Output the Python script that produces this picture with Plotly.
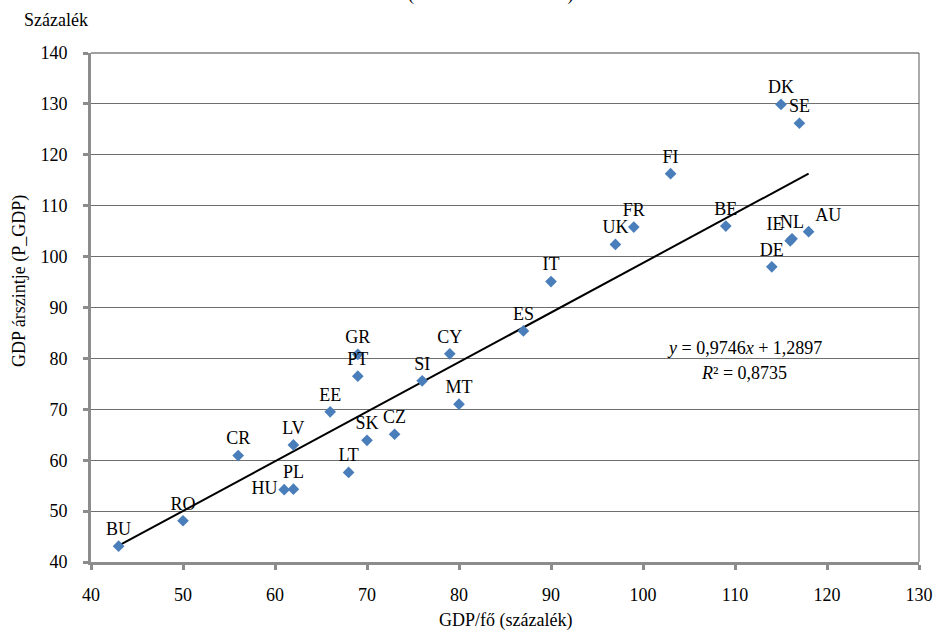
import plotly.graph_objects as go

# ---- data ----
countries = ["BU", "RO", "CR", "HU", "PL", "LV", "EE", "GR", "PT", "LT", "SK", "CZ",
             "SI", "CY", "MT", "ES", "IT", "UK", "FR", "FI", "BE", "DE", "IE", "NL",
             "AU", "DK", "SE"]
gdp_per_capita = [43, 50, 56, 61, 62, 62, 66, 69, 69, 68, 70, 73,
                  76, 79, 80, 87, 90, 97, 99, 103, 109, 114, 116, 116.2,
                  118, 115, 117]
price_level = [43.1, 48.1, 60.9, 54.2, 54.3, 63.0, 69.5, 80.8, 76.5, 57.6, 63.9, 65.1,
               75.6, 80.9, 71.0, 85.4, 95.1, 102.4, 105.8, 116.3, 106.0, 98.0, 103.1, 103.5,
               104.9, 129.9, 126.2]
trend_slope = 0.9746
trend_intercept = 1.2897
r_squared = 0.8735
x_ticks = [40, 50, 60, 70, 80, 90, 100, 110, 120, 130]
y_ticks = [40, 50, 60, 70, 80, 90, 100, 110, 120, 130, 140]

# ---- styles ----
FONT = "Liberation Serif"
SZ = 18


def fnt(size):
    return dict(family=FONT, size=size)


label_pos = {"HU": "middle left", "IE": "top left", "AU": "top right"}
positions = [label_pos.get(c, "top center") for c in countries]

fig = go.Figure()

x0, x1 = min(gdp_per_capita), max(gdp_per_capita)
fig.add_trace(go.Scatter(
    x=[x0, x1],
    y=[trend_slope * x0 + trend_intercept, trend_slope * x1 + trend_intercept],
    mode="lines", line=dict(color="black", width=2), hoverinfo="skip",
    showlegend=False))

fig.add_trace(go.Scatter(
    x=gdp_per_capita, y=price_level, text=countries, mode="markers+text",
    textposition=positions,
    textfont=fnt(SZ),
    marker=dict(symbol="diamond", size=9, color="#4a7ebb"),
    showlegend=False))

fmt = lambda v: f"{v:.4f}".replace(".", ",")
eq1 = f"<i>y</i> = {fmt(trend_slope)}<i>x</i> + {fmt(trend_intercept)}"
eq2 = f"<i>R</i>² = {fmt(r_squared)}"

fig.update_layout(
    width=945, height=633,
    margin=dict(l=91, r=17, t=53, b=71),
    paper_bgcolor="white", plot_bgcolor="white",
    font=dict(family=FONT, size=SZ, color="black"),
    xaxis=dict(range=[40, 130], tickvals=x_ticks, showgrid=False, zeroline=False,
               showline=True, linecolor="#8c8c8c", linewidth=3,
               ticks="outside", ticklen=5, tickwidth=3, tickcolor="#8c8c8c",
               ticklabelstandoff=9, tickfont=fnt(SZ)),
    yaxis=dict(range=[40, 140], tickvals=y_ticks, showgrid=True, gridcolor="#6e6e6e",
               gridwidth=1, zeroline=False,
               showline=True, linecolor="#8c8c8c", linewidth=3,
               ticks="outside", ticklen=5, tickwidth=3, tickcolor="#8c8c8c",
               ticklabelstandoff=12, tickfont=fnt(SZ)),
    shapes=[
        dict(type="line", xref="paper", yref="paper", x0=1, x1=1, y0=0, y1=1,
             line=dict(color="#595959", width=1)),
        dict(type="line", xref="paper", yref="paper", x0=0, x1=1, y0=1, y1=1,
             line=dict(color="#404040", width=1)),
    ],
    annotations=[
        dict(text=eq1, x=111.0, y=82.0, xref="x", yref="y", showarrow=False, font=fnt(SZ)),
        dict(text=eq2, x=111.0, y=77.1, xref="x", yref="y", showarrow=False, font=fnt(SZ)),
        dict(text="GDP/fő (százalék)", x=0.5, y=-0.115, xref="paper", yref="paper",
             showarrow=False, yanchor="middle", font=fnt(SZ)),
        dict(text="GDP árszintje (P_GDP)", x=-0.087, y=0.552, xref="paper", yref="paper",
             showarrow=False, textangle=-90, xanchor="center", yanchor="middle",
             font=fnt(SZ)),
        dict(text="Százalék", x=-0.042, y=1.0655, xref="paper", yref="paper",
             showarrow=False, xanchor="center", yanchor="middle", font=fnt(SZ)),
        dict(text="(EU15 = 100 százalék)", x=0.483, y=1.091, xref="paper", yref="paper",
             showarrow=False, xanchor="center", yanchor="bottom", font=fnt(SZ)),
    ],
)

fig.write_html("out.html", config={"displayModeBar": False},
               post_script="document.body.style.margin='0';")
